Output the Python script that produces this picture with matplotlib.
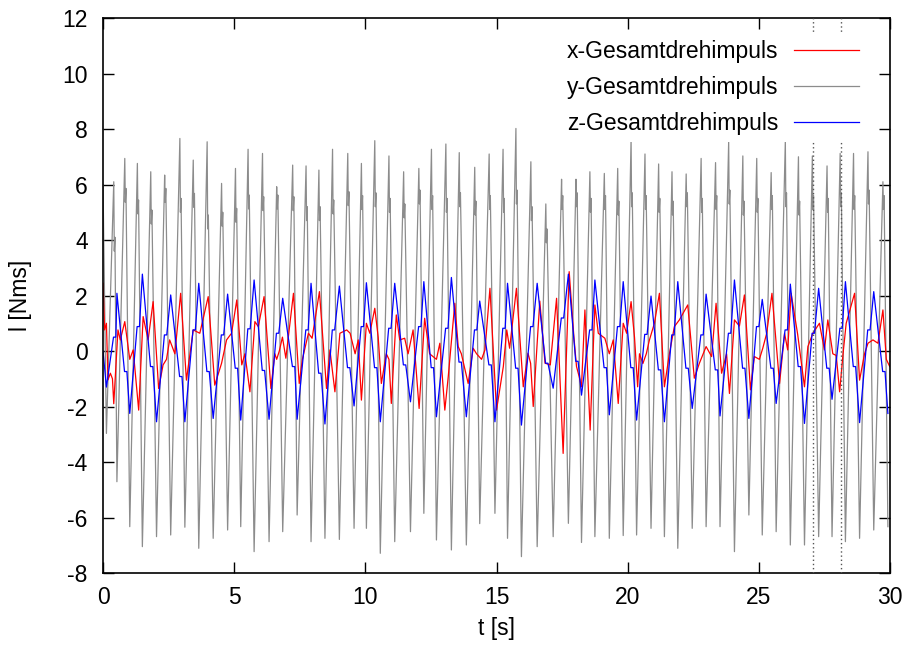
import matplotlib
matplotlib.use('Agg')
import matplotlib.pyplot as plt

plt.rcParams['font.family'] = ['Liberation Sans', 'DejaVu Sans']
plt.rcParams['axes.unicode_minus'] = False

# ---------------- data ----------------
# y-Gesamtdrehimpuls (grey): troughs, peaks and post-peak shoulders
y_start_t, y_start_v = 0.0, 6.0
y_trough_t = [0.13, 0.53, 1.02, 1.50, 2.04, 2.58, 3.12, 3.65, 4.20, 4.75,
              5.25, 5.76, 6.33, 6.85, 7.40, 7.93, 8.46, 9.01, 9.57, 10.04,
              10.57, 11.12, 11.72, 12.23, 12.71, 13.28, 13.85, 14.36, 14.94, 15.42,
              15.95, 16.55, 17.16, 17.74, 18.24, 18.75, 19.30, 19.83, 20.34, 20.89,
              21.40, 21.91, 22.46, 22.99, 23.52, 24.07, 24.62, 25.13, 25.66, 26.20,
              26.74, 27.28, 27.79, 28.30, 28.84, 29.38, 29.92]
y_trough_v = [-2.97, -4.71, -6.33, -7.05, -6.69, -6.63, -6.35, -7.11, -6.75, -6.45,
              -6.33, -7.23, -6.87, -6.51, -5.91, -6.87, -6.75, -6.79, -6.39, -6.39,
              -7.29, -6.87, -6.51, -5.85, -6.81, -7.17, -6.99, -6.22, -5.85, -6.75,
              -7.41, -7.05, -6.69, -6.21, -6.90, -6.69, -6.75, -6.65, -6.63, -6.39,
              -6.69, -7.11, -6.39, -6.33, -6.33, -7.23, -5.91, -6.63, -6.51, -6.99,
              -6.99, -6.69, -6.69, -6.87, -6.75, -6.45, -6.33]
y_peak_t = [0.41, 0.83, 1.31, 1.82, 2.35, 2.93, 3.44, 3.97, 4.52, 5.05,
            5.53, 6.08, 6.62, 7.23, 7.74, 8.23, 8.75, 9.33, 9.85, 10.36,
            10.90, 11.46, 12.04, 12.52, 13.07, 13.58, 14.17, 14.72, 15.25, 15.74,
            16.31, 16.88, 17.48, 18.03, 18.56, 19.11, 19.62, 20.13, 20.66, 21.18,
            21.69, 22.23, 22.80, 23.35, 23.85, 24.39, 24.92, 25.47, 26.01, 26.51,
            27.04, 27.60, 28.10, 28.61, 29.16, 29.73]
y_peak_v = [6.10, 6.94, 6.76, 6.46, 6.34, 7.66, 6.88, 7.54, 6.04, 6.58,
            7.27, 7.12, 5.92, 6.70, 6.67, 6.52, 7.27, 7.12, 6.76, 7.58,
            7.03, 6.46, 6.58, 7.27, 7.46, 7.15, 6.62, 7.10, 7.27, 8.02,
            6.82, 5.30, 6.19, 6.19, 6.46, 6.40, 6.58, 7.63, 7.10, 6.74,
            6.46, 6.38, 6.94, 6.79, 7.54, 7.03, 6.94, 6.43, 7.58, 7.00,
            7.03, 6.67, 7.12, 7.12, 7.18, 6.10]
y_shoulder_v = [4.10, 5.86, 5.44, 5.08, 5.86, 5.50, 5.68, 4.90, 5.00, 5.14,
                5.62, 5.56, 5.62, 5.56, 5.20, 5.20, 5.44, 5.74, 5.60, 5.70,
                5.50, 5.30, 5.80, 5.60, 5.50, 5.70, 5.40, 5.60, 5.50, 5.80,
                5.20, 4.40, 5.60, 5.70, 5.50, 5.60, 5.40, 5.70, 5.60, 5.50,
                5.40, 5.70, 5.50, 5.60, 5.80, 5.40, 5.50, 5.60, 5.70, 5.40,
                5.60, 5.50, 5.70, 5.60, 5.80, 5.60]

# z-Gesamtdrehimpuls (blue): extremes at the grey troughs, plateaus near grey peaks
z_start_t, z_start_v = 0.0, 0.0
z_ext_v = [-1.30, 2.08, -2.25, 2.77, -2.55, 2.02, -2.55, 2.44, -2.43, 2.05,
           -2.49, 2.56, -2.46, 1.90, -2.46, 2.44, -2.63, 2.34, -1.98, 2.46,
           -2.55, 2.44, -1.83, 2.50, -2.37, 2.65, -2.37, 1.80, -2.55, 2.44,
           -2.67, 2.44, -1.34, 2.77, -1.59, 2.56, -2.30, 2.50, -2.49, 1.98,
           -2.55, 2.50, -2.07, 2.05, -2.34, 2.56, -2.43, 1.86, -1.89, 2.41,
           -2.61, 2.26, -1.74, 2.50, -2.58, 2.14, -2.25]
z_plateau_v = [0.50, -0.74, 0.88, -0.56, 0.58, -0.92, 0.76, -0.74, 0.58, -0.62,
               0.80, -0.70, 0.64, -0.56, 0.76, -0.80, 0.76, -0.60, 0.88, -0.60,
               0.82, -0.50, 0.88, -0.60, 0.82, -0.40, 0.76, -0.50, 0.82, -0.62,
               0.88, -0.44, 1.19, -0.37, 0.76, -0.60, 0.88, -0.60, 0.60, -0.68,
               0.58, -0.62, 0.58, -0.68, 0.64, -0.62, 0.88, -0.62, 0.76, -0.56,
               0.64, -0.62, 0.82, -0.56, 0.76, -0.74]

# x-Gesamtdrehimpuls (red)
x_t = [0.00, 0.06, 0.13, 0.19, 0.28, 0.36, 0.41, 0.57, 0.66, 0.83,
       1.02, 1.15, 1.36, 1.53, 1.72, 1.91, 2.12, 2.29, 2.42, 2.54,
       2.74, 2.96, 3.18, 3.44, 3.69, 4.01, 4.26, 4.52, 4.71, 4.90,
       5.10, 5.29, 5.41, 5.60, 5.79, 5.92, 6.14, 6.40, 6.55, 6.62,
       6.72, 6.84, 6.97, 7.26, 7.48, 7.60, 7.83, 7.97, 8.25, 8.52,
       8.65, 8.84, 9.03, 9.29, 9.42, 9.61, 9.73, 9.85, 10.04, 10.17,
       10.36, 10.49, 10.61, 10.80, 10.90, 10.99, 11.18, 11.31, 11.50, 11.63,
       11.82, 12.05, 12.26, 12.45, 12.71, 12.84, 13.03, 13.16, 13.41, 13.54,
       13.66, 13.92, 14.11, 14.24, 14.43, 14.56, 14.75, 15.00, 15.26, 15.39,
       15.50, 15.76, 16.02, 16.20, 16.30, 16.40, 16.65, 16.85, 17.05, 17.29,
       17.54, 17.77, 17.95, 18.05, 18.15, 18.24, 18.37, 18.57, 18.75, 18.88,
       19.13, 19.30, 19.45, 19.64, 19.83, 19.96, 20.13, 20.26, 20.38, 20.45,
       20.58, 20.71, 20.83, 21.02, 21.21, 21.40, 21.59, 21.78, 21.97, 22.29,
       22.54, 22.73, 22.99, 23.20, 23.37, 23.58, 23.77, 23.88, 24.07, 24.26,
       24.45, 24.68, 24.83, 25.02, 25.15, 25.30, 25.50, 25.79, 25.98, 26.10,
       26.23, 26.48, 26.74, 26.87, 27.06, 27.31, 27.50, 27.63, 27.82, 27.95,
       28.08, 28.21, 28.33, 28.65, 28.84, 29.03, 29.16, 29.35, 29.54, 29.73,
       29.86, 29.99]
x_v = [2.44, 0.76, 1.00, -1.04, -0.80, -1.00, -1.90, 0.76, 0.40, 1.06,
       -0.30, 0.04, -2.13, 1.24, 0.40, 1.78, -1.35, -0.50, -0.30, 0.40,
       -0.10, 2.08, -1.05, 0.76, 0.64, 1.96, -1.23, -0.44, 0.40, 0.64,
       1.84, -0.50, -0.10, -1.47, 1.06, 0.88, 1.96, -1.35, -0.10, -0.30,
       0.00, 0.50, -0.26, 2.08, -1.17, -0.30, 0.64, 0.46, 2.14, -1.35,
       0.04, -1.47, 0.64, 0.76, 0.64, -0.10, 0.40, -1.77, 1.00, 0.64,
       1.54, 0.50, -1.17, -0.10, -0.30, -1.89, 1.30, 0.40, 0.46, -0.10,
       0.76, -2.07, 1.18, -0.10, -0.30, 0.28, -2.13, -0.93, 1.72, 0.16,
       -0.10, -1.17, 0.10, -0.10, -0.30, 0.04, 2.26, -2.13, -0.56, 0.76,
       0.10, 2.26, -1.29, -0.08, -0.44, -2.00, 1.80, -0.44, -0.50, 1.90,
       -3.69, 2.86, 0.50, -0.56, -0.92, -1.29, 1.48, -2.85, 1.66, 0.64,
       0.46, -0.10, 0.40, -1.89, 1.00, 0.64, 1.78, 0.50, -1.29, -0.10,
       -0.45, -0.10, 0.40, 1.00, 2.08, -1.29, -0.10, 0.88, 1.12, 1.66,
       -0.98, -0.45, 0.16, -0.20, 1.72, -0.80, -0.10, -1.53, 1.12, 0.90,
       2.02, -1.40, -0.20, -0.30, 0.10, 0.64, 2.08, -1.17, 0.64, 0.04,
       2.08, 0.60, -1.29, 0.16, 0.64, 1.00, 0.04, 1.12, -0.10, -0.16,
       -1.47, -0.10, 1.00, 2.08, -1.05, -0.10, 0.28, 0.40, 0.28, 1.48,
       -0.30, -0.56]

marker_t = [27.07, 28.13]

x_ticks = [0, 5, 10, 15, 20, 25, 30]
y_ticks = [-8, -6, -4, -2, 0, 2, 4, 6, 8, 10, 12]

# ---------------- build polylines from the read key points ----------------
gt, gv = [y_start_t], [y_start_v]
for i in range(len(y_trough_t)):
    gt.append(y_trough_t[i]); gv.append(y_trough_v[i])
    if i < len(y_peak_t):
        p = y_peak_t[i]
        gt += [p, p + 0.02, p + 0.045]
        gv += [y_peak_v[i], y_shoulder_v[i] - 0.5, y_shoulder_v[i]]

bt, bv = [z_start_t], [z_start_v]
for i in range(len(y_trough_t)):
    bt.append(y_trough_t[i]); bv.append(z_ext_v[i])
    if i < len(y_peak_t):
        p = y_peak_t[i]
        bt += [p - 0.01, p + 0.08]
        bv += [z_plateau_v[i], z_plateau_v[i]]

# ---------------- figure ----------------
fig = plt.figure(figsize=(9.02, 6.46), dpi=100)
ax = fig.add_axes([0.1142, 0.1130, 0.8725, 0.8591])

l_y, = ax.plot(gt, gv, color='#8c8c8c', lw=0.9, zorder=2)
l_x, = ax.plot(x_t, x_v, color='#ff0000', lw=0.9, zorder=2.1)
l_z, = ax.plot(bt, bv, color='#0000ff', lw=0.9, zorder=2.2)

for mt in marker_t:
    ax.axvline(mt, color='#555555', lw=1.0, linestyle=(0, (1, 2)), zorder=3)

ax.set_xlim(0, 30)
ax.set_ylim(-8, 12)
ax.set_xticks(x_ticks)
ax.set_yticks(y_ticks)
ax.tick_params(direction='in', length=8, width=1, top=True, right=True,
               labelsize=16.5, colors='black')
ax.tick_params(axis='y', pad=11)
ax.tick_params(axis='x', pad=9)
for s in ax.spines.values():
    s.set_linewidth(1.2)

ax.set_xlabel('t [s]', fontsize=16.5, labelpad=6)
ax.set_ylabel('l [Nms]', fontsize=16.5, labelpad=22)

leg = ax.legend([l_x, l_y, l_z],
                ['x-Gesamtdrehimpuls', 'y-Gesamtdrehimpuls', 'z-Gesamtdrehimpuls'],
                loc='upper right', bbox_to_anchor=(0.991, 1.003),
                fontsize=16.5, markerfirst=False,
                frameon=True, fancybox=False, framealpha=1.0,
                handlelength=2.85, handletextpad=0.65, labelspacing=0.55,
                borderpad=0.3, borderaxespad=0.75)
leg.get_frame().set_edgecolor('none')
leg.get_frame().set_facecolor('white')
leg.set_zorder(5)

fig.savefig('out.png', dpi=100)
